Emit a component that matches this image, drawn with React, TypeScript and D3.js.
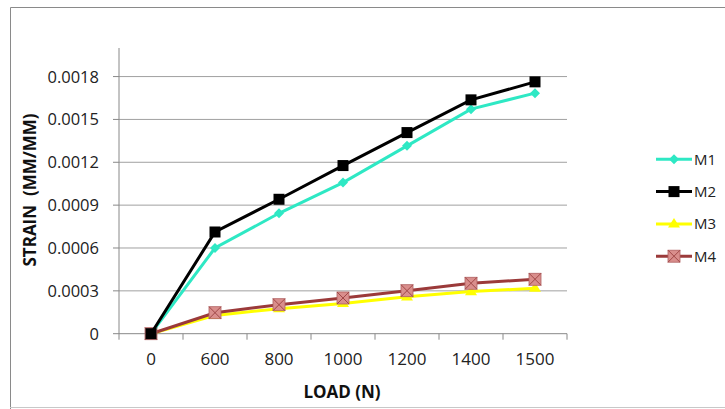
import React from "react";
import * as d3 from "d3";

const loads = ["0", "600", "800", "1000", "1200", "1400", "1500"];
const m1 = [0, 0.0006, 0.000843, 0.001058, 0.001315, 0.001572, 0.001684];
const m2 = [0, 0.000712, 0.000941, 0.001177, 0.001408, 0.001637, 0.001763];
const m3 = [0, 0.000128, 0.000175, 0.000212, 0.000258, 0.000295, 0.000318];
const m4 = [0, 0.000147, 0.000203, 0.00025, 0.000301, 0.000353, 0.000381];
const yTicks = [0, 0.0003, 0.0006, 0.0009, 0.0012, 0.0015, 0.0018];
const seriesNames = ["M1", "M2", "M3", "M4"];

const W = 725;
const H = 409;
const left = 119;
const right = 567;
const top = 48;
const bottom = 333.7;

const colors = ["#2ee8c4", "#000000", "#ffff00", "#9b3a3a"];

function Marker({ kind, x, y }: { kind: number; x: number; y: number }) {
  if (kind === 0) {
    const s = 5;
    return (
      <path
        d={`M${x},${y - s}L${x + s},${y}L${x},${y + s}L${x - s},${y}Z`}
        fill={colors[0]}
      />
    );
  }
  if (kind === 1) {
    return <rect x={x - 5.5} y={y - 5.5} width={11} height={11} fill="#000" />;
  }
  if (kind === 2) {
    const s = 6;
    return (
      <path
        d={`M${x},${y - s}L${x + s},${y + s * 0.6}L${x - s},${y + s * 0.6}Z`}
        fill={colors[2]}
      />
    );
  }
  const s = 6;
  return (
    <g>
      <rect x={x - s} y={y - s} width={2 * s} height={2 * s} fill="#d98e8c" stroke="#b06060" strokeWidth={0.8} />
      <path
        d={`M${x - s},${y - s}L${x + s},${y + s}M${x + s},${y - s}L${x - s},${y + s}`}
        stroke="#a04848"
        strokeWidth={1}
      />
    </g>
  );
}

export default function App() {
  const x = d3.scaleBand<string>().domain(loads).range([left, right]);
  const y = d3.scaleLinear().domain([0, 0.002]).range([bottom, top]);
  const data = [m1, m2, m3, m4];
  const line = d3
    .line<number>()
    .x((_, i) => (x(loads[i]) as number) + x.bandwidth() / 2)
    .y((d) => y(d));
  const font = "'Open Sans', 'Noto Sans', sans-serif";
  const xEdges = loads.map((l) => x(l) as number).concat([right]);
  const legendY = [159.3, 191.6, 223.9, 256.2];

  return (
    <svg
      width={W}
      height={H}
      style={{ position: "absolute", left: 0, top: 0, background: "#fff" }}
      fontFamily={font}
    >
      <rect x={0} y={0} width={W} height={H} fill="#fff" />
      <path d={`M10.5,${H}V7.5H${W}`} fill="none" stroke="#8a8a8a" strokeWidth={1} />
      <line x1={10} x2={W} y1={407.5} y2={407.5} stroke="#c8c8c8" strokeWidth={1} />

      {yTicks.map((t) => (
        <g key={t}>
          {t > 0 && (
            <line x1={left} x2={right} y1={y(t)} y2={y(t)} stroke="#a0a0a0" strokeWidth={1} />
          )}
          <line x1={left - 6} x2={left} y1={y(t)} y2={y(t)} stroke="#888" strokeWidth={1} />
          <text
            x={99}
            y={y(t)}
            dy="0.36em"
            textAnchor="end"
            fontSize={16.5}
            fill="#222"
          >
            {t === 0 ? "0" : t.toFixed(4)}
          </text>
        </g>
      ))}
      <line x1={left} x2={left} y1={top} y2={bottom} stroke="#888" strokeWidth={1} />
      <line x1={left} x2={right} y1={bottom} y2={bottom} stroke="#888" strokeWidth={1} />
      {xEdges.map((xe, i) => (
        <line key={i} x1={xe} x2={xe} y1={bottom} y2={bottom + 6} stroke="#888" strokeWidth={1} />
      ))}
      {loads.map((l) => (
        <text
          key={l}
          x={(x(l) as number) + x.bandwidth() / 2}
          y={359}
          dy="0.36em"
          textAnchor="middle"
          fontSize={17}
          fill="#222"
        >
          {l}
        </text>
      ))}
      <text x={342} y={392} dy="0.36em" textAnchor="middle" fontSize={17} fontWeight="bold" fill="#111">
        LOAD (N)
      </text>
      <text
        transform={`translate(30,190) rotate(-90)`}
        textAnchor="middle"
        dy="0.36em"
        fontSize={17}
        fontWeight="bold"
        fill="#111"
        style={{ whiteSpace: "pre" }}
      >
        {"STRAIN  (MM/MM)"}
      </text>

      {[2, 3, 0, 1].map((k) => (
        <g key={k}>
          <path d={line(data[k]) as string} fill="none" stroke={colors[k]} strokeWidth={3} />
          {data[k].map((v, i) => (
            <Marker
              key={i}
              kind={k}
              x={(x(loads[i]) as number) + x.bandwidth() / 2}
              y={y(v)}
            />
          ))}
        </g>
      ))}

      {seriesNames.map((n, k) => (
        <g key={n}>
          <line x1={656} x2={692} y1={legendY[k]} y2={legendY[k]} stroke={colors[k]} strokeWidth={3} />
          <Marker kind={k} x={674} y={legendY[k]} />
          <text x={694} y={legendY[k]} dy="0.36em" fontSize={15} fill="#222">
            {n}
          </text>
        </g>
      ))}
    </svg>
  );
}
